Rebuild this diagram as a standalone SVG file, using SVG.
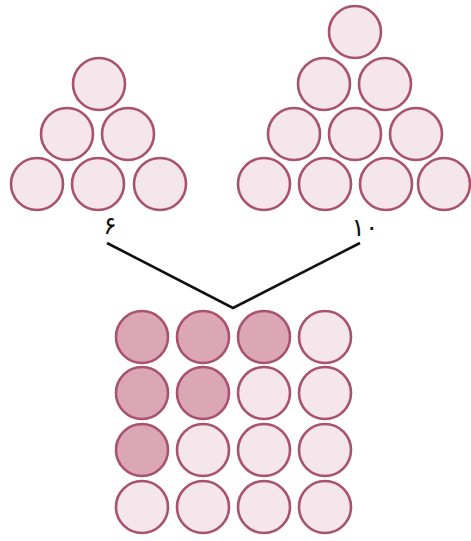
<svg xmlns="http://www.w3.org/2000/svg" width="471" height="541" viewBox="0 0 471 541">
<style>
.c{fill:#f4e6eb;stroke:#a9526d;stroke-width:2.6}
.d{fill:#dba6b6;stroke:#a9526d;stroke-width:2.6}
.t{font-family:"DejaVu Sans","Noto Sans",sans-serif;font-size:25px;fill:#111}
</style>
<rect width="471" height="541" fill="#fff"/>
<g id="triangle6">
<circle class="c" cx="99" cy="84" r="26"/>
<circle class="c" cx="67" cy="134" r="26"/>
<circle class="c" cx="128" cy="134" r="26"/>
<circle class="c" cx="37" cy="184" r="26"/>
<circle class="c" cx="98" cy="184" r="26"/>
<circle class="c" cx="160" cy="184" r="26"/>
<text class="t" x="110" y="234" text-anchor="middle">۶</text>
</g>
<g id="triangle10">
<circle class="c" cx="355" cy="32" r="26"/>
<circle class="c" cx="324" cy="84" r="26"/>
<circle class="c" cx="385" cy="84" r="26"/>
<circle class="c" cx="294" cy="134" r="26"/>
<circle class="c" cx="355" cy="134" r="26"/>
<circle class="c" cx="416" cy="134" r="26"/>
<circle class="c" cx="264" cy="184" r="26"/>
<circle class="c" cx="325" cy="184" r="26"/>
<circle class="c" cx="386" cy="184" r="26"/>
<circle class="c" cx="444" cy="184" r="26"/>
<text class="t" x="365" y="236" text-anchor="middle">۱۰</text>
</g>
<g id="connectors">
<polyline points="107,243 233,308 360,243" fill="none" stroke="#111" stroke-width="2.6"/>
</g>
<g id="square16">
<circle class="d" cx="142" cy="337" r="26"/>
<circle class="d" cx="203" cy="337" r="26"/>
<circle class="d" cx="264" cy="337" r="26"/>
<circle class="c" cx="325" cy="337" r="26"/>
<circle class="d" cx="142" cy="393" r="26"/>
<circle class="d" cx="203" cy="393" r="26"/>
<circle class="c" cx="264" cy="393" r="26"/>
<circle class="c" cx="325" cy="393" r="26"/>
<circle class="d" cx="142" cy="450" r="26"/>
<circle class="c" cx="203" cy="450" r="26"/>
<circle class="c" cx="264" cy="450" r="26"/>
<circle class="c" cx="325" cy="450" r="26"/>
<circle class="c" cx="142" cy="507" r="26"/>
<circle class="c" cx="203" cy="507" r="26"/>
<circle class="c" cx="264" cy="507" r="26"/>
<circle class="c" cx="325" cy="507" r="26"/>
</g>
</svg>
